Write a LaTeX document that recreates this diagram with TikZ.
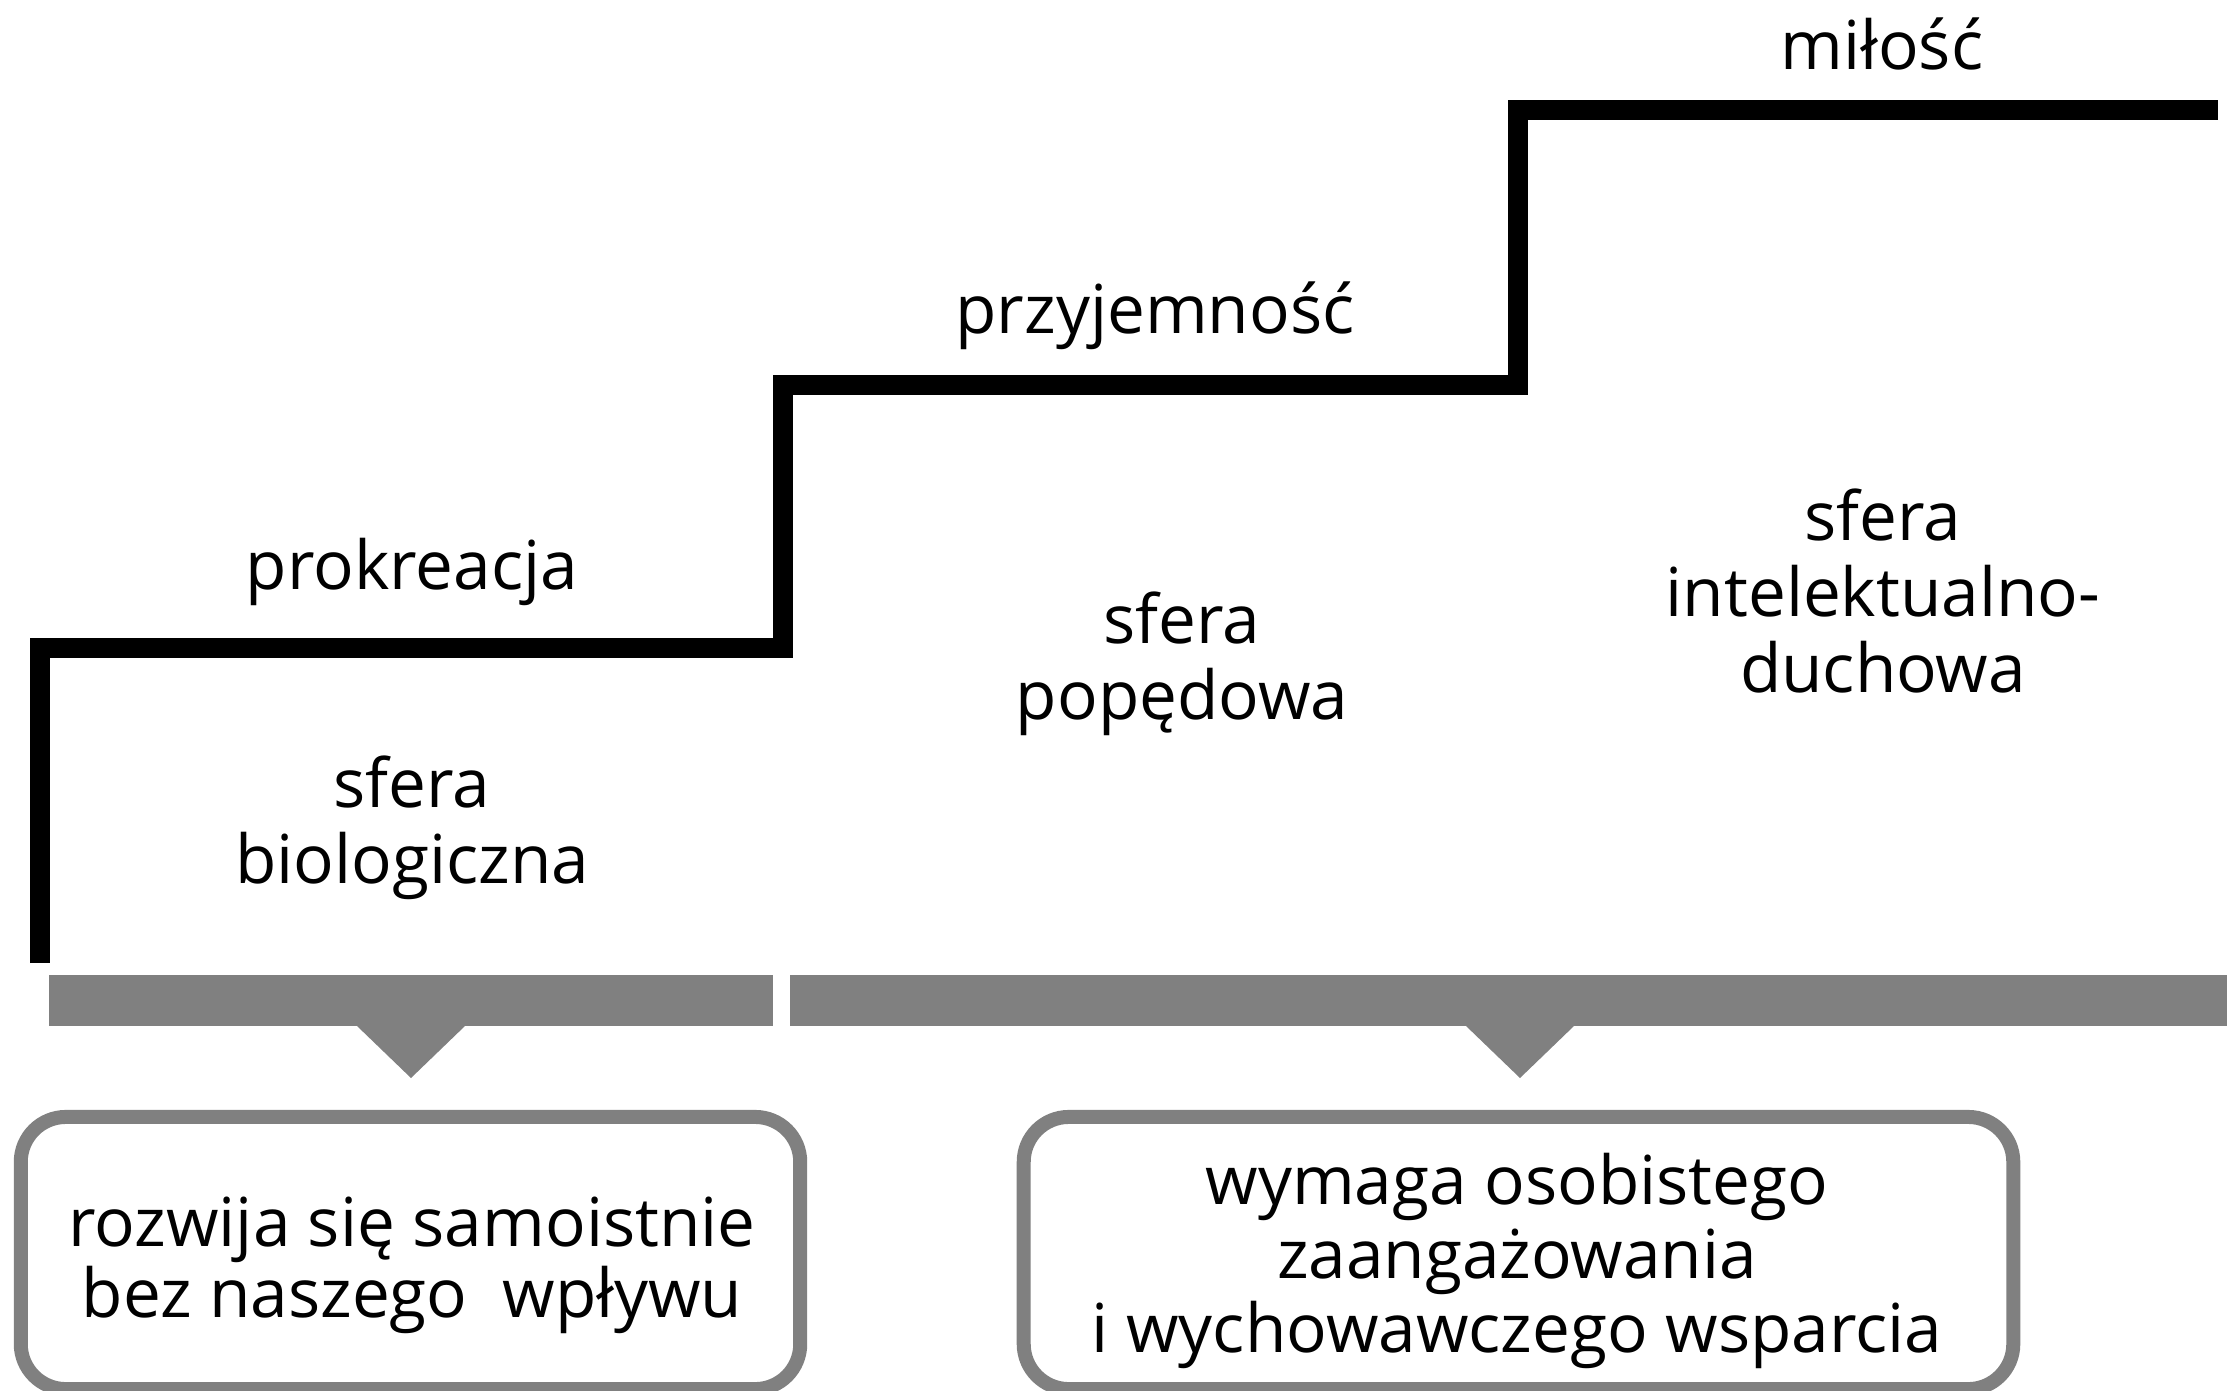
\documentclass[tikz,border=0pt]{standalone}
\usepackage{fontspec}
\setmainfont{Open Sans}
\definecolor{bargray}{HTML}{808080}
\begin{document}
\begin{tikzpicture}[x=0.01cm,y=-0.01cm,
  stair/.style={line width=0.2cm,line join=miter},
  txt/.style={align=center,inner sep=0pt,font=\fontsize{19.2}{21.5}\selectfont},
  bar/.style={fill=bargray,inner sep=0pt,minimum height=0.51cm},
  note/.style={draw=bargray,line width=0.14cm,rounded corners=0.45cm,inner sep=0pt,minimum height=2.72cm}]
  \useasboundingbox (0,0) rectangle (2227,1390);
  % stairs
  \draw[stair] (40,963) -- (40,647.5) -- (783,647.5) -- (783,384.5)
    -- (1518,384.5) -- (1518,109.5) -- (2218,109.5);
  \node[txt,anchor=base] (milosc) at (1882,69) {miłość};
  \node[txt,anchor=base] (przyj) at (1155,333) {przyjemność};
  \node[txt,anchor=base] (prokr) at (412,589) {prokreacja};
  \node[txt] (biol) at (412,828) {sfera\\biologiczna};
  \node[txt] (poped) at (1182,664) {sfera\\popędowa};
  \node[txt] (intel) at (1883,591) {sfera\\intelektualno-\\duchowa};
  % bars and pointers
  \node[bar,minimum width=7.235cm] (bar1) at (411.25,1000.5) {};
  \node[bar,minimum width=14.37cm] (bar2) at (1508.5,1000.5) {};
  \fill[bargray] (356,1025) -- (466,1025) -- (411,1078) -- cycle;
  \fill[bargray] (1465,1025) -- (1575,1025) -- (1520,1078) -- cycle;
  % boxes
  \node[note,minimum width=7.79cm] (note1) at (410.5,1253) {};
  \node[note,minimum width=9.89cm] (note2) at (1518.5,1253) {};
  \node[txt,font=\fontsize{19.2}{17.6}\selectfont] (note1txt) at (412,1265)
    {rozwija się samoistnie\\bez naszego\ \ wpływu};
  \node[txt,font=\fontsize{19.2}{21}\selectfont] (note2txt) at (1517,1261)
    {wymaga osobistego\\zaangażowania\\i wychowawczego wsparcia};
\end{tikzpicture}
\end{document}
